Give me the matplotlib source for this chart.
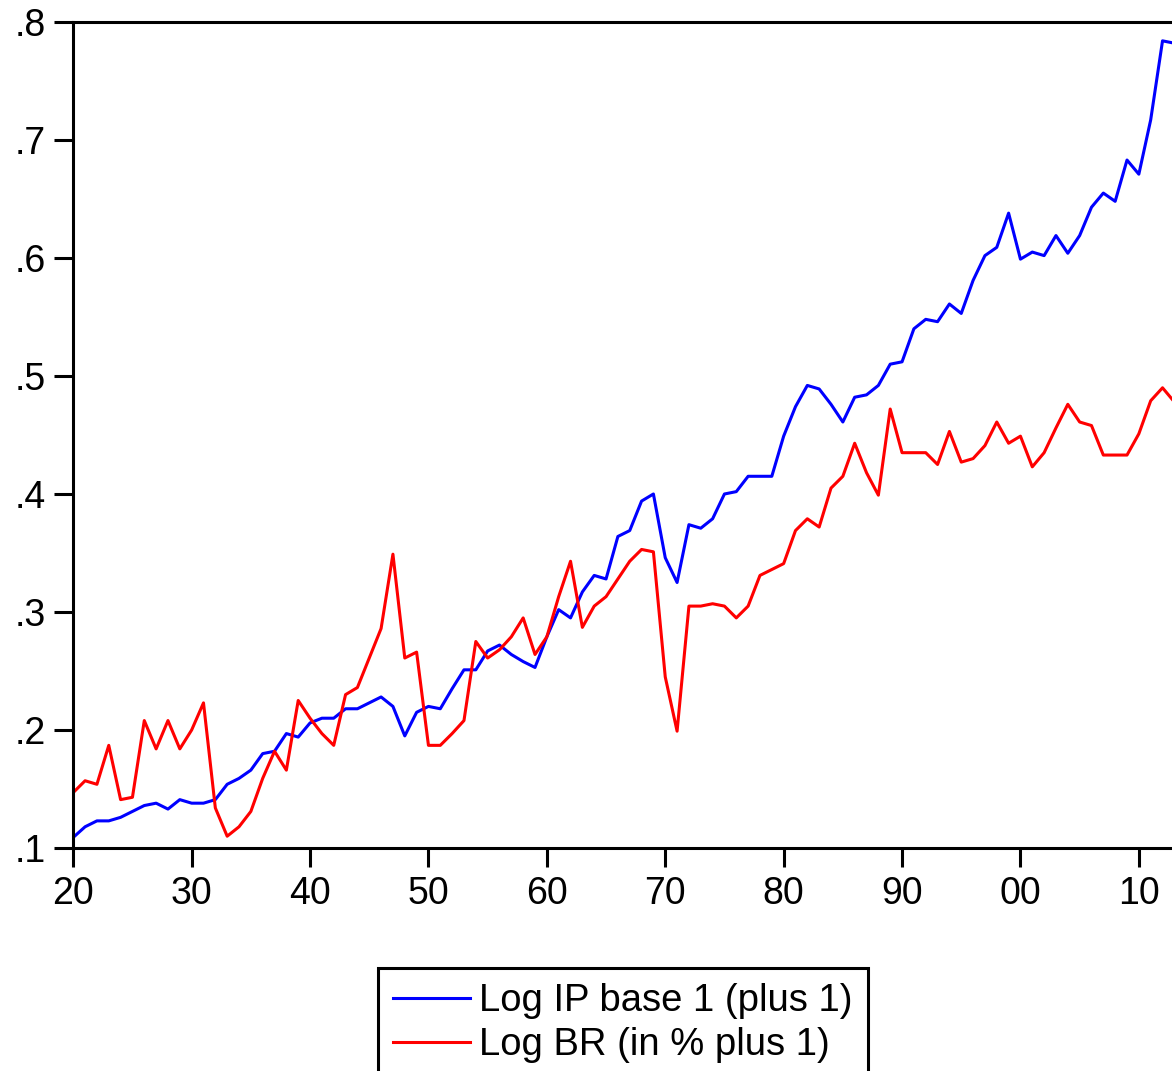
import matplotlib
matplotlib.use("Agg")
import matplotlib.pyplot as plt
import numpy as np

years = np.arange(1920, 2014)

# log industrial production, base 1 (plus 1)
log_ip = [
    0.109, 0.118, 0.123, 0.123, 0.126, 0.131, 0.136, 0.138, 0.133, 0.141,
    0.138, 0.138, 0.141, 0.154, 0.159, 0.166, 0.180, 0.182, 0.197, 0.194,
    0.206, 0.210, 0.210, 0.218, 0.218, 0.223, 0.228, 0.220, 0.195, 0.215,
    0.220, 0.218, 0.235, 0.251, 0.251, 0.267, 0.272, 0.264, 0.258, 0.253,
    0.279, 0.302, 0.295, 0.317, 0.331, 0.328, 0.364, 0.369, 0.394, 0.400,
    0.346, 0.325, 0.374, 0.371, 0.379, 0.400, 0.402, 0.415, 0.415, 0.415,
    0.449, 0.474, 0.492, 0.489, 0.476, 0.461, 0.482, 0.484, 0.492, 0.510,
    0.512, 0.540, 0.548, 0.546, 0.561, 0.553, 0.581, 0.602, 0.609, 0.638,
    0.599, 0.605, 0.602, 0.619, 0.604, 0.619, 0.643, 0.655, 0.648, 0.683,
    0.671, 0.717, 0.784, 0.782,
]

# log BR (in % plus 1)
log_br = [
    0.147, 0.157, 0.154, 0.187, 0.141, 0.143, 0.208, 0.184, 0.208, 0.184,
    0.200, 0.223, 0.134, 0.110, 0.118, 0.131, 0.159, 0.182, 0.166, 0.225,
    0.210, 0.197, 0.187, 0.230, 0.236, 0.261, 0.286, 0.349, 0.261, 0.266,
    0.187, 0.187, 0.197, 0.208, 0.275, 0.261, 0.268, 0.279, 0.295, 0.264,
    0.279, 0.313, 0.343, 0.287, 0.305, 0.313, 0.328, 0.343, 0.353, 0.351,
    0.245, 0.199, 0.305, 0.305, 0.307, 0.305, 0.295, 0.305, 0.331, 0.336,
    0.341, 0.369, 0.379, 0.372, 0.405, 0.415, 0.443, 0.418, 0.399, 0.472,
    0.435, 0.435, 0.435, 0.425, 0.453, 0.427, 0.430, 0.441, 0.461, 0.443,
    0.449, 0.423, 0.435, 0.456, 0.476, 0.461, 0.458, 0.433, 0.433, 0.433,
    0.451, 0.479, 0.490, 0.478,
]

x_ticks = list(range(1920, 2011, 10))
x_labels = ["20", "30", "40", "50", "60", "70", "80", "90", "00", "10"]
y_ticks = [0.1, 0.2, 0.3, 0.4, 0.5, 0.6, 0.7, 0.8]
y_labels = [".1", ".2", ".3", ".4", ".5", ".6", ".7", ".8"]

plt.rcParams['font.family'] = ['Liberation Sans', 'DejaVu Sans']

fig = plt.figure(figsize=(11.72, 10.71), dpi=100)
ax = fig.add_axes([0.0625, 0.2082, 0.9375, 0.7713])

ax.plot(years, log_ip, color='#0000ff', linewidth=2.2, label='Log IP base 1 (plus 1)')
ax.plot(years, log_br, color='#ff0000', linewidth=2.2, label='Log BR (in % plus 1)')

ax.set_xlim(1920, 2012.8)
ax.set_ylim(0.1, 0.8)
ax.set_xticks(x_ticks)
ax.set_xticklabels(x_labels)
ax.set_yticks(y_ticks)
ax.set_yticklabels(y_labels)

for side in ['left', 'bottom', 'top']:
    ax.spines[side].set_linewidth(2.2)
ax.spines['right'].set_visible(False)
ax.tick_params(axis='x', direction='out', length=14, width=2.2, pad=6, labelsize=27)
ax.tick_params(axis='y', direction='out', length=13.5, width=2.2, pad=6, labelsize=27)

leg = ax.legend(loc='upper left', bbox_to_anchor=(378 / 1172, 1 - 968 / 1071),
                bbox_transform=fig.transFigure, fontsize=27.5, frameon=True,
                framealpha=1, fancybox=False, handlelength=2.0, handletextpad=0.25,
                labelspacing=0.2, borderpad=0.4, borderaxespad=0)
leg.get_frame().set_edgecolor('black')
leg.get_frame().set_linewidth(2.2)

fig.savefig('out.png', dpi=100)
